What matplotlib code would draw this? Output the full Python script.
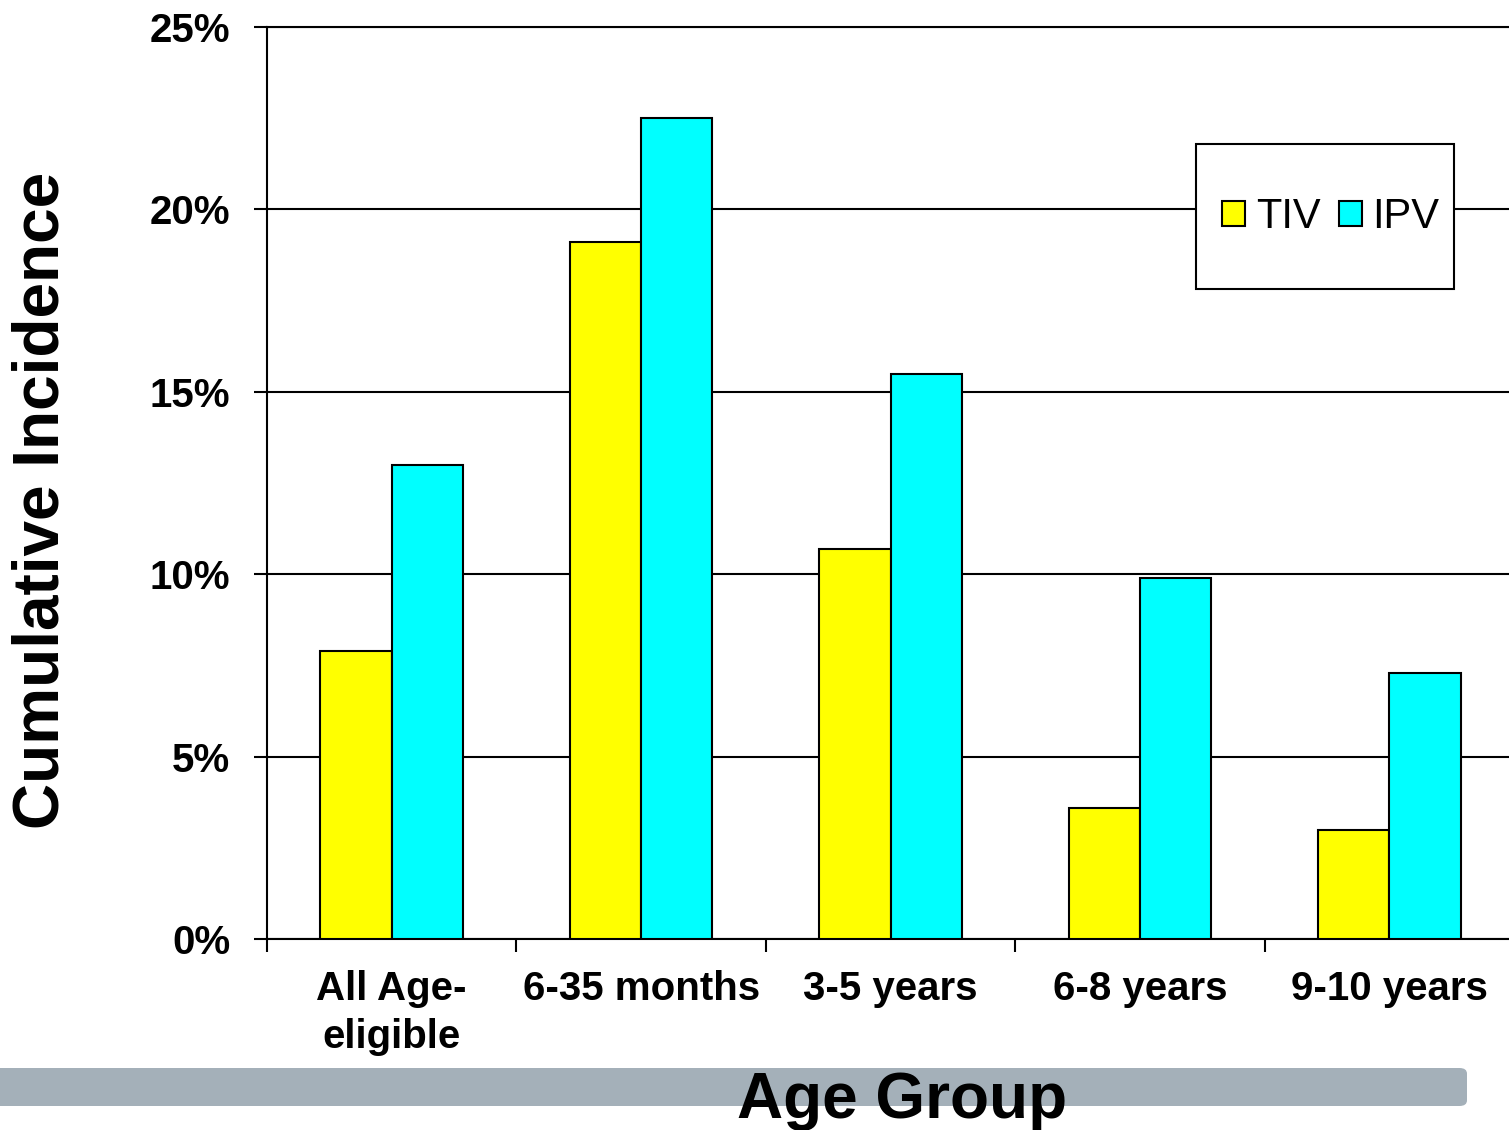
import matplotlib.pyplot as plt
import numpy as np
from matplotlib.patches import FancyBboxPatch, Rectangle

groups = ["All Age-\neligible", "6-35 months", "3-5 years", "6-8 years", "9-10 years"]
tiv = [7.9, 19.1, 10.7, 3.6, 3.0]
ipv = [13.0, 22.5, 15.5, 9.9, 7.3]
yticks = [0, 5, 10, 15, 20, 25]

W, H = 1509, 1130
plt.rcParams['font.family'] = ['Liberation Sans', 'DejaVu Sans']

fig = plt.figure(figsize=(W / 100, H / 100), dpi=100)
ax = fig.add_axes([267 / W, 1 - 939 / H, 1247 / W, (939 - 27) / H])

x = np.arange(len(groups))
bw = 0.286
ax.bar(x - bw / 2, tiv, bw, color='#ffff00', edgecolor='black', linewidth=1.5, label='TIV', zorder=3)
ax.bar(x + bw / 2, ipv, bw, color='#00ffff', edgecolor='black', linewidth=1.5, label='IPV', zorder=3)

ax.set_xlim(-0.5, len(groups) - 0.5)
ax.set_ylim(0, 25)
ax.set_yticks(yticks)
ax.set_yticklabels(["{}%".format(v) for v in yticks])
ax.yaxis.grid(True, color='black', linewidth=1.5, zorder=0)
ax.set_axisbelow(True)

ax.set_xticks(x)
ax.set_xticklabels(groups, linespacing=1.35)
ax.set_xticks(np.arange(-0.5, len(groups)), minor=True)
ax.tick_params(axis='x', which='major', length=0, pad=22)
ax.tick_params(axis='x', which='minor', length=9.5, width=1.5, direction='out')
ax.tick_params(axis='y', length=9.5, width=1.5, direction='out', pad=17)
for lab in ax.get_xticklabels() + ax.get_yticklabels():
    lab.set_fontsize(29)
    lab.set_fontweight('bold')

ax.spines['right'].set_visible(False)
for s in ['left', 'bottom', 'top']:
    ax.spines[s].set_linewidth(1.5)

# legend box
fig.patches.append(Rectangle((1196 / W, 1 - 289 / H), 258 / W, 145 / H,
                             transform=fig.transFigure, facecolor='white',
                             edgecolor='black', linewidth=1.5, zorder=5))
leg = fig.legend(loc='center', bbox_to_anchor=(1331 / W, 1 - 217 / H), ncol=2,
                 frameon=False, fontsize=30, handlelength=0.55, handleheight=0.55,
                 handletextpad=0.25, columnspacing=0.45)
leg.set_zorder(6)

fig.text(42 / W, 1 - 500 / H, "Cumulative Incidence", rotation=90, ha='center', va='center',
         fontsize=46, fontweight='bold')

# grey band under the axis
fig.patches.append(FancyBboxPatch((-10 / W, 1 - 1106 / H), 1477 / W, 38 / H,
                                  boxstyle="round,pad=0,rounding_size=0.005",
                                  transform=fig.transFigure, facecolor='#a4b0b9',
                                  edgecolor='none', zorder=0))
fig.text(902 / W, 1 - 1118 / H, "Age Group", ha='center', va='baseline',
         fontsize=46, fontweight='bold')

fig.savefig('out.png', dpi=100)
